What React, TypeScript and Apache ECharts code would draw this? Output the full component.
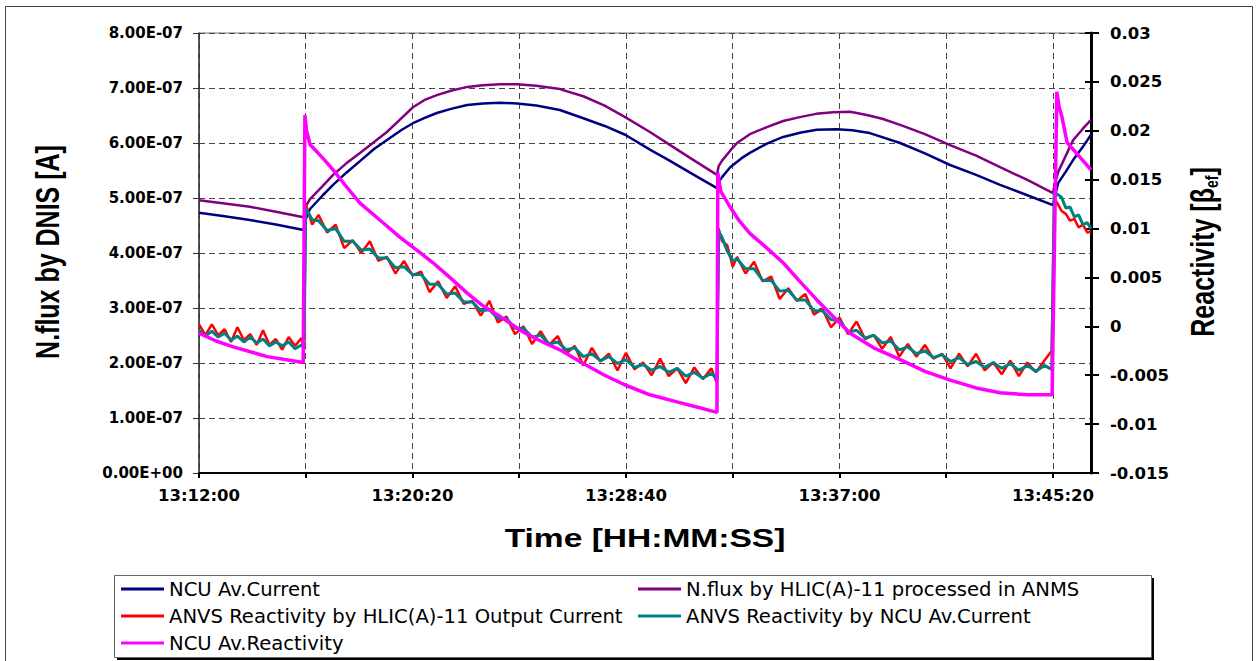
import React, { useEffect, useRef } from 'react';
import * as echarts from 'echarts';

// ---- Data (time in seconds after 13:12:00) ----
const navyTimes = [0, 60, 119, 180, 245, 250, 260, 290, 314, 345, 377, 410, 447, 475, 501, 530, 557, 590, 628, 665, 705, 745, 790, 845, 900, 950, 998, 1056, 1100, 1150, 1213, 1218, 1225, 1244, 1270, 1290, 1330, 1368, 1410, 1447, 1494, 1530, 1571, 1642, 1700, 1759, 1820, 1876, 1940, 2000, 2005, 2012, 2030, 2047, 2070, 2089];
const navyValues = [4.73e-7, 4.67e-7, 4.60e-7, 4.52e-7, 4.42e-7, 4.62e-7, 4.80e-7, 5.05e-7, 5.24e-7, 5.46e-7, 5.67e-7, 5.89e-7, 6.09e-7, 6.24e-7, 6.36e-7, 6.46e-7, 6.545e-7, 6.62e-7, 6.69e-7, 6.72e-7, 6.73e-7, 6.72e-7, 6.68e-7, 6.60e-7, 6.45e-7, 6.31e-7, 6.15e-7, 5.88e-7, 5.69e-7, 5.46e-7, 5.18e-7, 5.30e-7, 5.38e-7, 5.56e-7, 5.72e-7, 5.82e-7, 5.99e-7, 6.11e-7, 6.19e-7, 6.24e-7, 6.25e-7, 6.23e-7, 6.18e-7, 6.00e-7, 5.81e-7, 5.60e-7, 5.42e-7, 5.24e-7, 5.05e-7, 4.87e-7, 5.05e-7, 5.27e-7, 5.48e-7, 5.69e-7, 5.93e-7, 6.15e-7];

const purpleTimes = [0, 60, 119, 180, 245, 250, 260, 290, 314, 345, 377, 410, 440, 470, 501, 530, 557, 590, 628, 665, 705, 745, 790, 845, 900, 950, 998, 1056, 1100, 1150, 1213, 1217, 1225, 1244, 1260, 1290, 1330, 1368, 1407, 1445, 1485, 1525, 1564, 1600, 1642, 1700, 1759, 1820, 1876, 1940, 2000, 2005, 2012, 2030, 2047, 2070, 2089];
const purpleValues = [4.96e-7, 4.90e-7, 4.84e-7, 4.75e-7, 4.65e-7, 4.85e-7, 4.98e-7, 5.22e-7, 5.42e-7, 5.63e-7, 5.82e-7, 6.02e-7, 6.20e-7, 6.42e-7, 6.65e-7, 6.79e-7, 6.87e-7, 6.95e-7, 7.02e-7, 7.05e-7, 7.07e-7, 7.07e-7, 7.04e-7, 6.98e-7, 6.85e-7, 6.68e-7, 6.47e-7, 6.20e-7, 5.98e-7, 5.73e-7, 5.42e-7, 5.58e-7, 5.68e-7, 5.86e-7, 6.00e-7, 6.16e-7, 6.29e-7, 6.40e-7, 6.47e-7, 6.53e-7, 6.56e-7, 6.57e-7, 6.51e-7, 6.44e-7, 6.33e-7, 6.16e-7, 5.96e-7, 5.77e-7, 5.56e-7, 5.33e-7, 5.09e-7, 5.28e-7, 5.47e-7, 5.77e-7, 6.05e-7, 6.26e-7, 6.42e-7];

const magentaTimes = [0, 40, 80, 160, 244, 248, 252, 260, 290, 314, 345, 377, 420, 471, 510, 548, 590, 628, 665, 705, 760, 800, 845, 900, 950, 998, 1056, 1126, 1170, 1213, 1215, 1222, 1244, 1265, 1290, 1330, 1368, 1407, 1447, 1485, 1525, 1580, 1642, 1700, 1759, 1820, 1876, 1940, 1998, 2009, 2014, 2021, 2033, 2063, 2089];
const magentaValues = [-0.0007, -0.0015, -0.0021, -0.0031, -0.0037, 0.0216, 0.0200, 0.0186, 0.0172, 0.0160, 0.0143, 0.0126, 0.0110, 0.0091, 0.0078, 0.0065, 0.0049, 0.0034, 0.0021, 0.0010, -0.0006, -0.0015, -0.0024, -0.0038, -0.0050, -0.0060, -0.0070, -0.0078, -0.0083, -0.0088, 0.0157, 0.0138, 0.0122, 0.0108, 0.0095, 0.0080, 0.0065, 0.0046, 0.0027, 0.0010, -0.0007, -0.0022, -0.0034, -0.0046, -0.0055, -0.0063, -0.0068, -0.0070, -0.0070, 0.0240, 0.0225, 0.0214, 0.0188, 0.0173, 0.0160];

const noisyTimes = [
  0, 15, 30, 45, 60, 75, 90, 105, 120, 135, 150, 165, 180, 195, 210, 225, 240, 246,
  250, 265, 280, 300, 320, 340, 360, 380, 400, 420, 440, 460, 480, 500, 520, 540, 560, 580, 600, 620, 640, 660, 680, 700, 720, 740, 760, 780, 800, 820, 840, 860, 880, 900, 920, 940, 960, 980, 1000, 1020, 1040, 1060, 1080, 1100, 1120, 1140, 1160, 1180, 1200, 1213,
  1217, 1225, 1237, 1250, 1260, 1280, 1300, 1320, 1340, 1360, 1380, 1400, 1420, 1440, 1460, 1480, 1500, 1520, 1540, 1560, 1580, 1600, 1620, 1640, 1660, 1680, 1700, 1720, 1740, 1760, 1780, 1800, 1820, 1840, 1860, 1880, 1900, 1920, 1940, 1960, 1980, 1997,
  2003, 2010, 2020, 2030, 2040, 2050, 2060, 2070, 2080, 2089,
];

const tealValues = [
  -0.0004, -0.0010, -0.0005, -0.0011, -0.0007, -0.0014, -0.0010, -0.0016, -0.0011, -0.0017, -0.0013, -0.0020, -0.0016, -0.0020, -0.0016, -0.0023, -0.0019, -0.0022,
  0.0121, 0.0109, 0.0108, 0.0098, 0.0100, 0.0087, 0.0087, 0.0078, 0.0079, 0.0070,
  0.0070, 0.0060, 0.0061, 0.0053, 0.0053, 0.0043, 0.0043, 0.0033, 0.0034, 0.0025,
  0.0025, 0.0016, 0.0017, 0.0008, 0.0008, -0.0002, -0.0002, -0.0011, -0.0009, -0.0018,
  -0.0016, -0.0024, -0.0022, -0.0031, -0.0028, -0.0035, -0.0031, -0.0038, -0.0034, -0.0042,
  -0.0039, -0.0045, -0.0041, -0.0047, -0.0043, -0.0051, -0.0047, -0.0053, -0.0048, -0.0054,
  0.0097, 0.0091, 0.0077, 0.0067, 0.0069, 0.0059, 0.0059, 0.0047, 0.0047, 0.0036,
  0.0037, 0.0027, 0.0027, 0.0016, 0.0016, 0.0007, 0.0006, -0.0006, -0.0004, -0.0012,
  -0.0009, -0.0017, -0.0015, -0.0024, -0.0021, -0.0028, -0.0025, -0.0032, -0.0029, -0.0036,
  -0.0032, -0.0039, -0.0036, -0.0042, -0.0037, -0.0043, -0.0038, -0.0045, -0.0040, -0.0046,
  -0.0040, -0.0044,
  0.0138, 0.0135, 0.0132, 0.0121, 0.0122, 0.0112, 0.0114, 0.0104, 0.0106, 0.0100,
];

const redValues = [
  0.0002, -0.0009, 0.0002, -0.0009, -0.0003, -0.0016, -0.0001, -0.0014, -0.0008, -0.0019, -0.0004, -0.0019, -0.0013, -0.0024, -0.0011, -0.0020, -0.0012, -0.0024,
  0.0125, 0.0104, 0.0114, 0.0096, 0.0104, 0.0080, 0.0088, 0.0075, 0.0087, 0.0067,
  0.0071, 0.0054, 0.0067, 0.0052, 0.0056, 0.0035, 0.0046, 0.0029, 0.0041, 0.0023,
  0.0026, 0.0011, 0.0026, 0.0004, 0.0010, -0.0008, 0.0000, -0.0018, -0.0005, -0.0019,
  -0.0010, -0.0028, -0.0020, -0.0040, -0.0022, -0.0036, -0.0028, -0.0045, -0.0027, -0.0044,
  -0.0037, -0.0050, -0.0033, -0.0051, -0.0043, -0.0058, -0.0042, -0.0054, -0.0043, -0.0058,
  0.0100, 0.0087, 0.0083, 0.0061, 0.0071, 0.0054, 0.0066, 0.0046, 0.0051, 0.0028,
  0.0039, 0.0026, 0.0033, 0.0012, 0.0018, -0.0001, 0.0009, -0.0008, 0.0005, -0.0013,
  -0.0009, -0.0023, -0.0011, -0.0031, -0.0018, -0.0031, -0.0019, -0.0033, -0.0028, -0.0043,
  -0.0028, -0.0041, -0.0028, -0.0045, -0.0037, -0.0049, -0.0035, -0.0051, -0.0037, -0.0047,
  -0.0035, -0.0025,
  0.0130, 0.0126, 0.0118, 0.0115, 0.0108, 0.0110, 0.0101, 0.0104, 0.0096, 0.0097,
];

const seriesNames = [
  'NCU Av.Current',
  'N.flux by HLIC(A)-11 processed in ANMS',
  'ANVS Reactivity by HLIC(A)-11 Output Current',
  'ANVS Reactivity by NCU Av.Current',
  'NCU Av.Reactivity',
];
const seriesColors = ['#000080', '#800080', '#FF0000', '#008080', '#FF00FF'];

const START_SECONDS = 13 * 3600 + 12 * 60;

function zip(t: number[], v: number[]) {
  return t.map((x, i) => [x, v[i]]);
}
function pad2(n: number) {
  return String(n).padStart(2, '0');
}
function clock(v: number) {
  if (Math.round(v) % 500 !== 0) return '';
  const s = START_SECONDS + Math.round(v);
  return `${Math.floor(s / 3600)}:${pad2(Math.floor((s % 3600) / 60))}:${pad2(s % 60)}`;
}
function sci(v: number) {
  const [m, e] = v.toExponential(2).split('e');
  const n = parseInt(e, 10);
  return `${m}E${n < 0 ? '-' : '+'}${pad2(Math.abs(n))}`;
}
function react(v: number) {
  return String(parseFloat(v.toFixed(4)));
}

const tickFont = { fontFamily: 'DejaVu Sans', fontWeight: 'bold' as const, color: '#000' };
const dashed = { type: [6, 4] as number[], color: '#444', width: 1 };

export default function App() {
  const ref = useRef<HTMLDivElement>(null);
  useEffect(() => {
    const chart = echarts.init(ref.current!, null, { renderer: 'svg' });
    const legendText = { fontFamily: 'DejaVu Sans', fontSize: 19.6, color: '#000', lineHeight: 20 };
    const legendCommon = {
      orient: 'vertical', icon: 'rect', itemWidth: 43, itemHeight: 3, itemGap: 7, padding: 0,
      selectedMode: false, textStyle: legendText, z: 10,
    };
    const option: any = {
      animation: false,
      backgroundColor: '#fff',
      grid: { left: 199, right: 168, top: 33, bottom: 188, show: true, borderColor: '#777', borderWidth: 1, backgroundColor: 'rgba(0,0,0,0)' },
      xAxis: {
        type: 'value', min: 0, max: 2089, interval: 250,
        axisLine: { lineStyle: { color: '#000', width: 2 } },
        axisTick: { show: true, length: 5, lineStyle: { color: '#000', width: 2 } },
        axisLabel: { ...tickFont, fontSize: 16.5, margin: 14, formatter: clock, showMaxLabel: false },
        splitLine: { show: true, lineStyle: dashed },
      },
      yAxis: [
        {
          type: 'value', position: 'left', min: 0, max: 8e-7, interval: 1e-7,
          axisLine: { show: true, lineStyle: { color: '#333', width: 1.5 } },
          axisTick: { show: true, length: 6, lineStyle: { color: '#333', width: 1 } },
          axisLabel: { ...tickFont, fontSize: 15, margin: 16, formatter: sci },
          splitLine: { show: true, lineStyle: dashed },
        },
        {
          type: 'value', position: 'right', min: -0.015, max: 0.03, interval: 0.005,
          axisLine: { show: true, lineStyle: { color: '#000', width: 3 } },
          axisTick: { show: true, length: 8, lineStyle: { color: '#000', width: 2 } },
          axisLabel: { ...tickFont, fontSize: 16.5, margin: 19, formatter: react },
          splitLine: { show: false },
        },
        {
          type: 'value', position: 'right', min: -0.015, max: 0.03, interval: 0.005,
          axisLine: { show: false },
          axisTick: { show: true, inside: true, length: 6, lineStyle: { color: '#000', width: 2 } },
          axisLabel: { show: false },
          splitLine: { show: false },
        },
      ],
      legend: [
        { ...legendCommon, left: 121, top: 579, data: [seriesNames[0], seriesNames[2], seriesNames[4]] },
        { ...legendCommon, left: 638, top: 579, data: [seriesNames[1], seriesNames[3]] },
      ],
      series: [
        { name: seriesNames[0], type: 'line', yAxisIndex: 0, symbol: 'none', data: zip(navyTimes, navyValues), lineStyle: { width: 2.5, color: seriesColors[0] }, itemStyle: { color: seriesColors[0] } },
        { name: seriesNames[1], type: 'line', yAxisIndex: 0, symbol: 'none', data: zip(purpleTimes, purpleValues), lineStyle: { width: 2.5, color: seriesColors[1] }, itemStyle: { color: seriesColors[1] } },
        { name: seriesNames[2], type: 'line', yAxisIndex: 1, symbol: 'none', data: zip(noisyTimes, redValues), lineStyle: { width: 2.5, color: seriesColors[2] }, itemStyle: { color: seriesColors[2] } },
        { name: seriesNames[3], type: 'line', yAxisIndex: 1, symbol: 'none', data: zip(noisyTimes, tealValues), lineStyle: { width: 3, color: seriesColors[3] }, itemStyle: { color: seriesColors[3] } },
        { name: seriesNames[4], type: 'line', yAxisIndex: 1, symbol: 'none', data: zip(magentaTimes, magentaValues), lineStyle: { width: 3.5, color: seriesColors[4] }, itemStyle: { color: seriesColors[4] } },
      ],
      graphic: [
        { type: 'rect', z: 0, silent: true, shape: { x: 5.5, y: 6.5, width: 1247, height: 700 }, style: { fill: 'none', stroke: '#444', lineWidth: 1 } },
        { type: 'rect', z: 1, silent: true, shape: { x: 117, y: 578, width: 1037, height: 82 }, style: { fill: '#000' } },
        { type: 'rect', z: 2, silent: true, shape: { x: 114.5, y: 575.5, width: 1037, height: 82 }, style: { fill: '#fff', stroke: '#666', lineWidth: 1 } },
        {
          type: 'text', z: 5, x: 645, y: 538, scaleX: 1.29,
          style: { text: 'Time [HH:MM:SS]', fontSize: 26, fontWeight: 'bold', fontFamily: 'Liberation Sans', fill: '#000', align: 'center', verticalAlign: 'middle' },
        },
        {
          type: 'text', z: 5, x: 48, y: 252, rotation: Math.PI / 2, scaleY: 1.3,
          style: { text: 'N.flux by DNIS [A]', fontSize: 25, fontWeight: 'bold', fontFamily: 'Liberation Sans', fill: '#000', align: 'center', verticalAlign: 'middle' },
        },
        {
          type: 'text', z: 5, x: 1203, y: 252, rotation: Math.PI / 2, scaleY: 1.3,
          style: {
            text: '{a|Reactivity [β}{b|ef}{a|]}',
            align: 'center', verticalAlign: 'middle',
            rich: {
              a: { fontSize: 25, fontWeight: 'bold', fontFamily: 'Liberation Sans', fill: '#000', lineHeight: 30 },
              b: { fontSize: 14, fontWeight: 'bold', fontFamily: 'Liberation Sans', fill: '#000', lineHeight: 30, padding: [12, 0, 0, 0] },
            },
          },
        },
      ],
    };
    chart.setOption(option);
    return () => chart.dispose();
  }, []);
  return <div ref={ref} style={{ position: 'fixed', left: 0, top: 0, width: 1259, height: 661, background: '#fff' }} />;
}
